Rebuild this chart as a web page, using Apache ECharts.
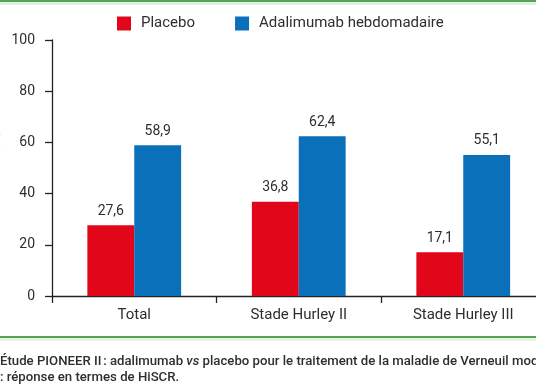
<!DOCTYPE html>
<html>
<head>
<meta charset="utf-8">
<script src="https://cdn.jsdelivr.net/npm/echarts@6/dist/echarts.min.js"></script>
<style>
html,body{margin:0;padding:0;background:#fff;}
#c{width:536px;height:386px;}
</style>
</head>
<body>
<div id="c"></div>
<script>
var categories = ['Total', 'Stade Hurley II', 'Stade Hurley III'];
var placebo = [27.6, 36.8, 17.1];
var adalimumab = [58.9, 62.4, 55.1];
var seriesNames = ['Placebo', 'Adalimumab hebdomadaire'];
var yTicks = [0, 20, 40, 60, 80, 100];
var yAxisName = 'Patients (%)';
var captionLine1 = ['Étude PIONEER II\u202f: adalimumab ', 'vs', ' placebo pour le traitement de la maladie de Verneuil modérée à sévère'];
var captionLine2 = ': réponse en termes de HiSCR.';

var FONT = 'Roboto';
var TXT = '#2e2e2e';
var RED = '#e2061b';
var BLUE = '#0a70b9';

function fmt(p){ return String(p.value).replace('.', ','); }

var chart = echarts.init(document.getElementById('c'), null, {renderer:'canvas'});
chart.setOption({
  animation: false,
  textStyle: {fontFamily: FONT},
  legend: {
    data: seriesNames,
    left: 117, top: 16, padding: 0,
    itemWidth: 14, itemHeight: 14, itemGap: 40,
    icon: 'rect',
    textStyle: {fontFamily: FONT, fontSize: 15, color: TXT, padding: [0,0,0,5]}
  },
  grid: {left: 52, top: 40, width: 493.5, height: 256, containLabel: false, outerBoundsMode: 'none'},
  xAxis: {
    type: 'category',
    data: categories,
    axisLine: {lineStyle: {color: '#222', width: 1.3}},
    axisTick: {show: true, length: 7, lineStyle: {color: '#222', width: 1.3}},
    axisLabel: {fontFamily: FONT, fontSize: 15, color: TXT, margin: 12}
  },
  yAxis: {
    type: 'value', min: yTicks[0], max: yTicks[yTicks.length-1], interval: yTicks[1]-yTicks[0],
    name: yAxisName, nameLocation: 'middle', nameRotate: 90, nameGap: 49,
    nameTextStyle: {fontFamily: FONT, fontSize: 14, color: TXT, fontWeight: 500},
    axisLine: {show: true, lineStyle: {color: '#222', width: 1.3}},
    axisTick: {show: true, length: 7, lineStyle: {color: '#222', width: 1.3}},
    axisLabel: {fontFamily: FONT, fontSize: 14, color: TXT, margin: 17},
    splitLine: {show: false}
  },
  series: [
    {name: seriesNames[0], type: 'bar', data: placebo, barGap: '0%', barCategoryGap: '43%',
     itemStyle: {color: RED},
     label: {show: true, position: 'top', distance: 7, formatter: fmt, fontFamily: FONT, fontSize: 14, color: TXT}},
    {name: seriesNames[1], type: 'bar', data: adalimumab, barGap: '0%', barCategoryGap: '43%',
     itemStyle: {color: BLUE},
     label: {show: true, position: 'top', distance: 7, formatter: fmt, fontFamily: FONT, fontSize: 14, color: TXT}}
  ],
  graphic: [
    {type: 'rect', shape: {x: 0, y: 0, width: 536, height: 2}, style: {fill: '#55a555'}, silent: true},
    {type: 'rect', shape: {x: 0, y: 2, width: 536, height: 3}, style: {fill: '#e3f1e3'}, silent: true},
    {type: 'rect', shape: {x: 0, y: 336, width: 536, height: 2}, style: {fill: '#55a555'}, silent: true},
    {type: 'rect', shape: {x: 0, y: 338, width: 536, height: 3}, style: {fill: '#e8f3e4'}, silent: true},
    {type: 'text', left: 0, top: 355,
     style: {
       text: '{a|' + captionLine1[0] + '}{i|' + captionLine1[1] + '}{a|' + captionLine1[2] + '}',
       rich: {
         a: {fontFamily: FONT, fontSize: 13.2, fontWeight: 500, fill: TXT},
         i: {fontFamily: FONT, fontSize: 13.2, fontWeight: 500, fontStyle: 'italic', fill: TXT}
       }
     }},
    {type: 'text', left: 0, top: 371,
     style: {text: captionLine2, font: '500 13.2px ' + FONT, fill: TXT}}
  ]
});
</script>
</body>
</html>
